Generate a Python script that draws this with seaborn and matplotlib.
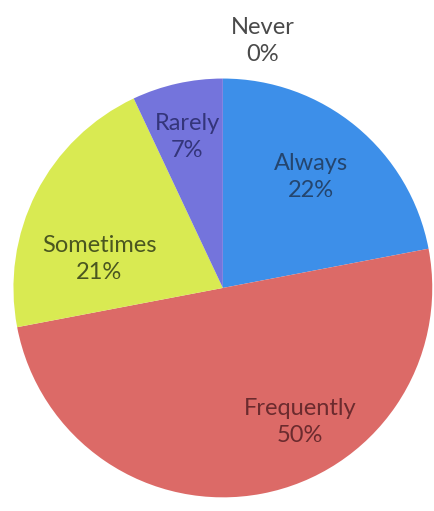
import matplotlib
matplotlib.use("Agg")
import matplotlib.pyplot as plt
import seaborn as sns

# Data (clockwise from 12 o'clock)
categories = ['Always', 'Frequently', 'Sometimes', 'Rarely', 'Never']
percentages = [22, 50, 21, 7, 0]

slice_colors = ['#3d8fe9', '#dc6a67', '#d9ea52', '#7474dc', '#9a9a9a']
text_colors = ['#24456e', '#6b2b2e', '#4a5620', '#34357a', '#4a4a4a']

# label anchors in pie units (radius = 1)
label_xy = {
    'Always': (0.42, 0.53),
    'Frequently': (0.37, -0.64),
    'Sometimes': (-0.59, 0.14),
    'Rarely': (-0.17, 0.72),
    'Never': (0.19, 1.18),
}

sns.set_theme(style="white")
plt.rcParams['font.family'] = ['Lato', 'DejaVu Sans']

fig = plt.figure(figsize=(4.34, 5.11), dpi=100)
ax = fig.add_axes([0.031, 0.0215, 0.965, 0.830])

wedges, _ = ax.pie(percentages, colors=slice_colors, startangle=90,
                   counterclock=False, radius=1.0,
                   wedgeprops=dict(linewidth=0))

for cat, pct, tc in zip(categories, percentages, text_colors):
    x, y = label_xy[cat]
    ax.text(x, y, f'{cat}\n{pct}%', ha='center', va='center',
            fontsize=17, color=tc, linespacing=1.35)

ax.set_xlim(-1.0, 1.0)
ax.set_ylim(-1.0, 1.0)
ax.set_aspect('equal')
ax.axis('off')

fig.savefig('out.png', dpi=100, facecolor='white')
